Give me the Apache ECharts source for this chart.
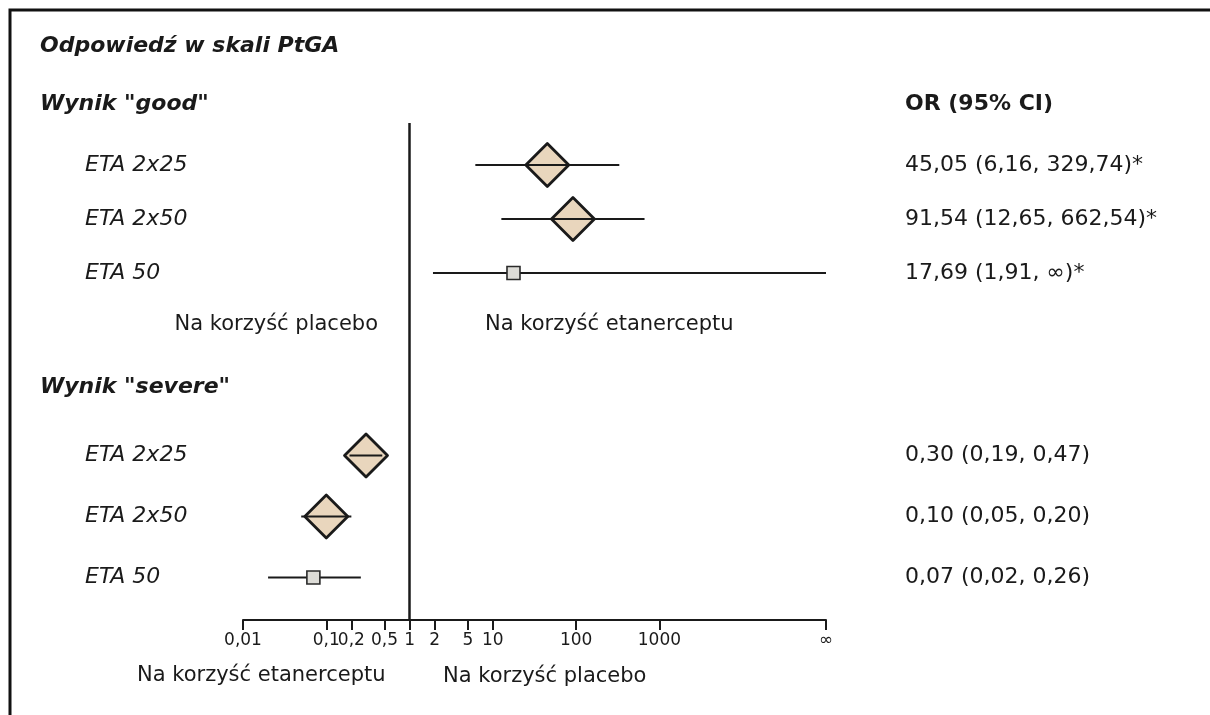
<!DOCTYPE html>
<html>
<head>
<meta charset="utf-8">
<script src="https://cdn.jsdelivr.net/npm/echarts@6/dist/echarts.min.js"></script>
<style>
  html, body { margin: 0; padding: 0; background: #ffffff; }
  #chart { width: 1210px; height: 715px; }
</style>
</head>
<body>
<div id="chart"></div>
<script>
// Odds ratios (95% CI) for the PtGA response, by etanercept regimen
const doses = ['ETA 2x25', 'ETA 2x50', 'ETA 50'];

const goodOR  = [45.05, 91.54, 17.69];
const goodLo  = [6.16, 12.65, 1.91];
const goodHi  = [329.74, 662.54, Infinity];
const goodSig = [true, true, true];

const severeOR  = [0.30, 0.10, 0.07];
const severeLo  = [0.19, 0.05, 0.02];
const severeHi  = [0.47, 0.20, 0.26];
const severeSig = [false, false, false];

// Log-scale ticks; the open upper bound is drawn at the last tick
const tickValues = [0.01, 0.1, 0.2, 0.5, 1, 2, 5, 10, 100, 1000, 100000];
const tickLabels = ['0,01', '0,1', '0,2', '0,5', '1', '2', '5', '10', '100', '1000', '∞'];

// marker shape per regimen (pooled estimate vs single study)
const markerShapes = ['diamond', 'diamond', 'square'];

const FONT = '"DejaVu Sans", Verdana, sans-serif';
const INK = '#1a1a1a';
const xMin = tickValues[0];
const xMax = tickValues[tickValues.length - 1];

function fmt(v) {
  return isFinite(v) ? v.toFixed(2).replace('.', ',') : '∞';
}
function orText(or, lo, hi, sig) {
  return fmt(or) + ' (' + fmt(lo) + ', ' + fmt(hi) + ')' + (sig ? '*' : '');
}
function tickText(v) {
  for (let i = 0; i < tickValues.length; i++) {
    if (Math.abs(v - tickValues[i]) <= tickValues[i] * 1e-6) return tickLabels[i];
  }
  return '';
}

function rows(or, lo, hi) {
  return or.map((v, i) => [v, lo[i], isFinite(hi[i]) ? hi[i] : xMax, i]);
}

function renderForest(params, api) {
  const row = api.value(3);
  const c = api.coord([api.value(0), row]);
  const a = api.coord([api.value(1), row]);
  const b = api.coord([api.value(2), row]);
  const shape = markerShapes[params.dataIndex];
  const ci = {
    type: 'line',
    shape: { x1: a[0], y1: a[1], x2: b[0], y2: b[1] },
    style: { stroke: INK, lineWidth: 2.2 }
  };
  if (shape === 'diamond') {
    const h = 21.5;
    return {
      type: 'group',
      children: [
        {
          type: 'polygon',
          shape: { points: [[c[0], c[1] - h], [c[0] + h, c[1]], [c[0], c[1] + h], [c[0] - h, c[1]]] },
          style: { fill: '#e9d6bd', stroke: INK, lineWidth: 2.8, lineJoin: 'round' }
        },
        ci
      ]
    };
  }
  const s = 13;
  return {
    type: 'group',
    children: [
      ci,
      {
        type: 'rect',
        shape: { x: c[0] - s / 2, y: c[1] - s / 2, width: s, height: s },
        style: { fill: '#dddcd7', stroke: '#2a2a2a', lineWidth: 1.6 }
      }
    ]
  };
}

const hiddenLogAxis = (gridIndex) => ({
  type: 'log', gridIndex, min: xMin, max: xMax, logBase: 10,
  show: false, splitLine: { show: false }
});

const rowLabelAxis = (gridIndex) => ({
  type: 'category', gridIndex, inverse: true, data: doses,
  axisLine: { show: false }, axisTick: { show: false }, splitLine: { show: false },
  axisLabel: {
    align: 'left', margin: 158, fontFamily: FONT, fontSize: 22,
    fontStyle: 'italic', color: INK
  }
});

const orLabelAxis = (gridIndex, labels) => ({
  type: 'category', gridIndex, inverse: true, position: 'right', data: labels,
  axisLine: { show: false }, axisTick: { show: false }, splitLine: { show: false },
  axisLabel: { align: 'left', margin: 79, fontFamily: FONT, fontSize: 22, color: INK }
});

const goodLabels = goodOR.map((v, i) => orText(v, goodLo[i], goodHi[i], goodSig[i]));
const severeLabels = severeOR.map((v, i) => orText(v, severeLo[i], severeHi[i], severeSig[i]));

const textStyle = (text, x, y, font, align) => ({
  type: 'text', x, y, silent: true,
  style: { text, font, fill: INK, align: align || 'left', verticalAlign: 'middle' }
});

const chart = echarts.init(document.getElementById('chart'), null, { renderer: 'canvas' });

chart.setOption({
  backgroundColor: '#ffffff',
  animation: false,
  grid: [
    { left: 243, right: 384, top: 138, height: 162 },
    { left: 243, right: 384, top: 425, height: 183 },
    { left: 243, right: 384, top: 123, bottom: 95 }
  ],
  xAxis: [
    hiddenLogAxis(0),
    hiddenLogAxis(1),
    {
      type: 'log', gridIndex: 2, min: xMin, max: xMax, logBase: 10,
      axisLine: { show: true, lineStyle: { color: INK, width: 2 } },
      axisTick: { show: true, length: 10, customValues: tickValues, lineStyle: { color: INK, width: 2 } },
      minorTick: { show: false },
      splitLine: { show: false },
      axisLabel: {
        customValues: tickValues, margin: 12, fontFamily: FONT, fontSize: 17, color: INK,
        formatter: (v) => tickText(v)
      }
    }
  ],
  yAxis: [
    rowLabelAxis(0),
    rowLabelAxis(1),
    { type: 'value', gridIndex: 2, min: 0, max: 1, show: false },
    orLabelAxis(0, goodLabels),
    orLabelAxis(1, severeLabels)
  ],
  series: [
    {
      type: 'line', xAxisIndex: 2, yAxisIndex: 2, data: [], silent: true,
      markLine: {
        symbol: 'none', silent: true, label: { show: false },
        lineStyle: { color: INK, width: 2.5, type: 'solid' },
        data: [{ xAxis: 1 }]
      }
    },
    {
      type: 'custom', xAxisIndex: 0, yAxisIndex: 0, renderItem: renderForest,
      data: rows(goodOR, goodLo, goodHi), encode: { x: [0, 1, 2], y: 3 }, z: 5
    },
    {
      type: 'custom', xAxisIndex: 1, yAxisIndex: 1, renderItem: renderForest,
      data: rows(severeOR, severeLo, severeHi), encode: { x: [0, 1, 2], y: 3 }, z: 5
    }
  ],
  graphic: [
    {
      type: 'rect', silent: true,
      shape: { x: 10, y: 10, width: 1400, height: 900 },
      style: { fill: 'none', stroke: '#111111', lineWidth: 3 }
    },
    textStyle('Odpowiedź w skali PtGA', 40, 46, 'italic bold 22px ' + FONT),
    textStyle('Wynik "good"', 40, 104, 'italic bold 22px ' + FONT),
    textStyle('OR (95% CI)', 905, 104, 'bold 22px ' + FONT),
    textStyle('Na korzyść placebo', 378, 325, '21px ' + FONT, 'right'),
    textStyle('Na korzyść etanerceptu', 485, 325, '21px ' + FONT),
    textStyle('Wynik "severe"', 40, 387, 'italic bold 22px ' + FONT),
    textStyle('Na korzyść etanerceptu', 137, 676, '21px ' + FONT),
    textStyle('Na korzyść placebo', 443, 677, '21px ' + FONT)
  ]
});
</script>
</body>
</html>
